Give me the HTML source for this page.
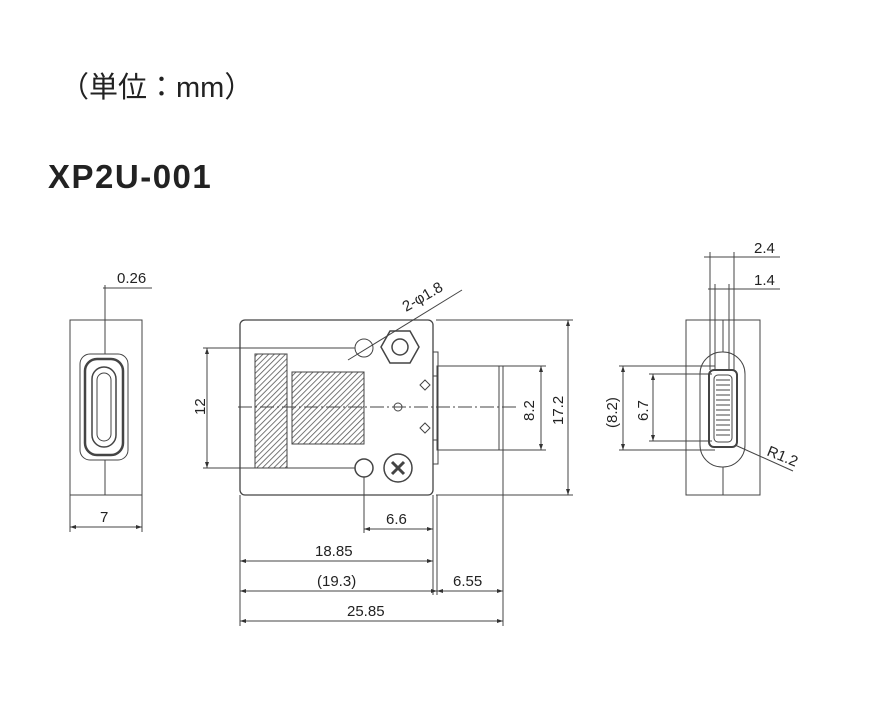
<!DOCTYPE html>
<html><head><meta charset="utf-8"><style>
html,body{margin:0;padding:0;background:#fff;}
svg{display:block;}
text{font-family:"Liberation Sans","Noto Sans CJK JP",sans-serif;fill:#222;}
</style></head><body>
<svg width="872" height="715" viewBox="0 0 872 715" xmlns="http://www.w3.org/2000/svg">
<defs>
<pattern id="h" width="4" height="4" patternUnits="userSpaceOnUse" patternTransform="rotate(45)">
<rect width="4" height="4" fill="#fff"/><line x1="0" y1="0" x2="0" y2="4" stroke="#555" stroke-width="1.6"/></pattern>
<marker id="a" markerWidth="6" markerHeight="6" refX="6" refY="3" orient="auto-start-reverse"><path d="M0,1 L6,3 L0,5z" fill="#333"/></marker>
</defs>
<text x="60" y="97" font-size="29" fill="#333">（単位：mm）</text>
<text x="48" y="188" font-size="33" font-weight="bold" fill="#222" letter-spacing="1.5">XP2U-001</text>
<g stroke="#444" stroke-width="1" fill="none">
<rect x="70" y="320" width="72" height="175"/>
<line x1="105" y1="285" x2="105" y2="495"/>
<rect x="80" y="354" width="48" height="106" rx="10" fill="#fff"/>
<rect x="85" y="359" width="38" height="96" rx="12" stroke-width="2.5"/>
<rect x="92" y="367" width="24" height="80" rx="12" stroke-width="1.5"/>
<rect x="97" y="373" width="14" height="68" rx="7"/>
<line x1="103" y1="288" x2="152" y2="288"/>
<line x1="70" y1="495" x2="70" y2="532"/><line x1="142" y1="495" x2="142" y2="532"/>
<line x1="70" y1="527" x2="142" y2="527" marker-start="url(#a)" marker-end="url(#a)"/>
<rect x="240" y="320" width="193" height="175" rx="5" stroke-width="1.3"/>
<rect x="255" y="354" width="32" height="114" fill="url(#h)"/>
<rect x="292" y="372" width="72" height="72" fill="url(#h)"/>
<rect x="437" y="366" width="66" height="84"/>
<line x1="499" y1="366" x2="499" y2="450"/>
<rect x="433" y="352" width="5" height="24"/>
<rect x="433" y="376" width="5" height="64"/>
<rect x="433" y="440" width="5" height="24"/>
<path d="M420,385 l5,-5 l5,5 l-5,5z M420,428 l5,-5 l5,5 l-5,5z"/>
<line x1="238" y1="407" x2="516" y2="407" stroke-dasharray="14,3,2,3"/>
<circle cx="398" cy="407" r="4"/>
<polygon points="381,347 390,331 410,331 419,347 410,363 390,363" stroke-width="1.5"/>
<circle cx="400" cy="347" r="8" stroke-width="1.5"/>
<circle cx="364" cy="348" r="9"/>
<circle cx="364" cy="468" r="9" stroke-width="1.5"/>
<circle cx="398" cy="468" r="14" stroke-width="1.5"/>
<path d="M392,462 l12,12 M404,462 l-12,12" stroke-width="3"/>
<line x1="348" y1="360" x2="462" y2="290"/>
<line x1="203" y1="348" x2="355" y2="348"/><line x1="203" y1="468" x2="355" y2="468"/>
<line x1="207" y1="348" x2="207" y2="468" marker-start="url(#a)" marker-end="url(#a)"/>
<line x1="503" y1="366" x2="546" y2="366"/><line x1="503" y1="450" x2="546" y2="450"/>
<line x1="541" y1="366" x2="541" y2="450" marker-start="url(#a)" marker-end="url(#a)"/>
<line x1="436" y1="320" x2="573" y2="320"/><line x1="436" y1="495" x2="573" y2="495"/>
<line x1="568" y1="320" x2="568" y2="495" marker-start="url(#a)" marker-end="url(#a)"/>
<line x1="240" y1="495" x2="240" y2="626"/>
<line x1="364" y1="477" x2="364" y2="533"/>
<line x1="433" y1="495" x2="433" y2="595"/>
<line x1="437" y1="495" x2="437" y2="595"/>
<line x1="503" y1="450" x2="503" y2="626"/>
<line x1="364" y1="529" x2="433" y2="529" marker-start="url(#a)" marker-end="url(#a)"/>
<line x1="240" y1="561" x2="433" y2="561" marker-start="url(#a)" marker-end="url(#a)"/>
<line x1="240" y1="591" x2="437" y2="591" marker-start="url(#a)" marker-end="url(#a)"/>
<line x1="437" y1="591" x2="503" y2="591" marker-start="url(#a)" marker-end="url(#a)"/>
<line x1="240" y1="621" x2="503" y2="621" marker-start="url(#a)" marker-end="url(#a)"/>
<rect x="686" y="320" width="74" height="175"/>
<line x1="723" y1="320" x2="723" y2="352"/><line x1="723" y1="467" x2="723" y2="495"/>
<line x1="710" y1="252" x2="710" y2="370"/><line x1="734" y1="252" x2="734" y2="370"/>
<line x1="715" y1="284" x2="715" y2="370"/><line x1="729" y1="284" x2="729" y2="370"/>
<line x1="704" y1="257" x2="780" y2="257"/><line x1="708" y1="289" x2="780" y2="289"/>
<rect x="700" y="352" width="45" height="115" rx="22"/>
<rect x="709" y="370" width="28" height="77" rx="5" stroke-width="2"/>
<rect x="714" y="375" width="18" height="67" rx="4"/>
<path d="M716,380h14M716,385h14M716,390h14M716,395h14M716,400h14M716,405h14M716,410h14M716,415h14M716,420h14M716,425h14M716,430h14M716,435h14"/>
<line x1="619" y1="366" x2="715" y2="366"/><line x1="619" y1="450" x2="715" y2="450"/>
<line x1="623" y1="366" x2="623" y2="450" marker-start="url(#a)" marker-end="url(#a)"/>
<line x1="649" y1="374" x2="712" y2="374"/><line x1="649" y1="441" x2="712" y2="441"/>
<line x1="653" y1="374" x2="653" y2="441" marker-start="url(#a)" marker-end="url(#a)"/>
<line x1="735" y1="445" x2="793" y2="471"/>
</g>
<g font-size="15">
<text x="117" y="283">0.26</text>
<text x="100" y="522">7</text>
<text x="406" y="312" transform="rotate(-30 406 312)">2-φ1.8</text>
<text x="205" y="415" transform="rotate(-90 205 415)">12</text>
<text x="534" y="421" transform="rotate(-90 534 421)">8.2</text>
<text x="563" y="425" transform="rotate(-90 563 425)">17.2</text>
<text x="386" y="524">6.6</text>
<text x="315" y="556">18.85</text>
<text x="317" y="586">(19.3)</text>
<text x="453" y="586">6.55</text>
<text x="347" y="616">25.85</text>
<text x="754" y="253">2.4</text>
<text x="754" y="285">1.4</text>
<text x="617" y="428" transform="rotate(-90 617 428)">(8.2)</text>
<text x="648" y="421" transform="rotate(-90 648 421)">6.7</text>
<text x="766" y="455" transform="rotate(22 766 455)">R1.2</text>
</g>
</svg>
</body></html>
